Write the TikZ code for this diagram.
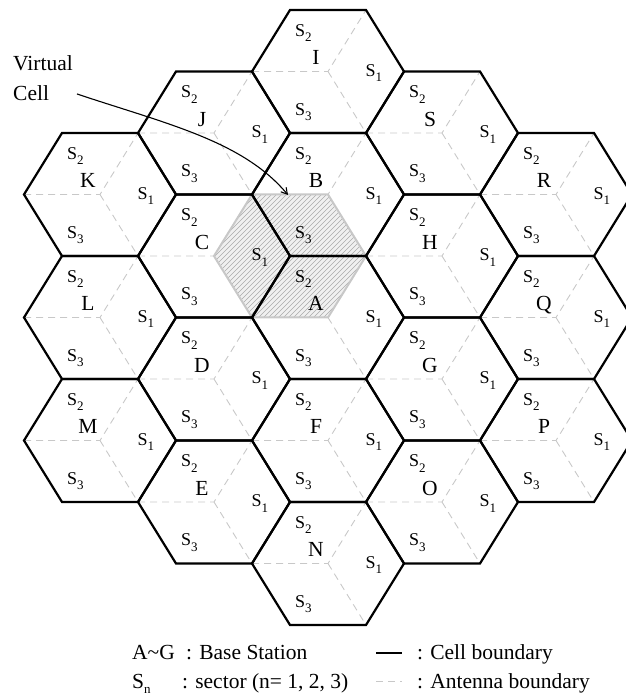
\documentclass[tikz,border=0pt]{standalone}
\usepackage{fontspec}
\setmainfont{Liberation Serif}
\usetikzlibrary{arrows.meta}
\definecolor{antgray}{RGB}{200,200,200}
\definecolor{vfill}{RGB}{240,240,240}
\definecolor{vhatch}{RGB}{170,170,170}
\definecolor{vborder}{RGB}{200,200,200}
\newcommand{\Ssub}[1]{S\raisebox{-5.5pt}{\fontsize{13}{13}\selectfont #1}}
\begin{document}
\begin{tikzpicture}[x=1pt,y=1pt,
  cellb/.style={line width=2.2pt, line join=miter},
  antb/.style={antgray, line width=0.9pt, dash pattern=on 7pt off 5pt},
  slab/.style={font=\fontsize{18}{18}\selectfont, inner sep=0pt, anchor=base west},
  clab/.style={font=\fontsize{21.5}{24}\selectfont, inner sep=0pt, anchor=base},
  legtext/.style={font=\fontsize{21.5}{24}\selectfont, inner sep=0pt, anchor=base west}]
\useasboundingbox (0,0) rectangle (626,697);
\clip (0,0) rectangle (626,697);
\def\cells{K,L,M,J,C,D,E,I,B,A,F,N,S,H,G,O,R,Q,P}
\foreach \n/\cx/\cy in {K/100/502.5, L/100/379.5, M/100/256.5,
  J/214/564, C/214/441, D/214/318, E/214/195,
  I/328/625.5, B/328/502.5, A/328/379.5, F/328/256.5, N/328/133.5,
  S/442/564, H/442/441, G/442/318, O/442/195,
  R/556/502.5, Q/556/379.5, P/556/256.5}
  \coordinate (c\n) at (\cx,\cy);
% virtual cell
\coordinate (vc) at (290,441);
\fill[vfill, shift={(vc)}] (76,0) -- (38,61.5) -- (-38,61.5) -- (-76,0) -- (-38,-61.5) -- (38,-61.5) -- cycle;
\begin{scope}
  \clip[shift={(vc)}] (76,0) -- (38,61.5) -- (-38,61.5) -- (-76,0) -- (-38,-61.5) -- (38,-61.5) -- cycle;
  \foreach \i in {-34,...,34}
    \draw[vhatch, line width=0.6pt, shift={(vc)}] (5*\i-80,-80) -- (5*\i+80,80);
\end{scope}
% antenna boundaries
\foreach \n in \cells
  \draw[antb, shift={(c\n)}] (-76,0) -- (0,0) -- (38,61.5) (0,0) -- (38,-61.5);
\draw[vborder, line width=2pt, shift={(vc)}] (76,0) -- (38,61.5) -- (-38,61.5) -- (-76,0) -- (-38,-61.5) -- (38,-61.5) -- cycle;
% cell boundaries
\foreach \n in \cells
  \draw[cellb, shift={(c\n)}] (76,0) -- (38,61.5) -- (-38,61.5) -- (-76,0) -- (-38,-61.5) -- (38,-61.5) -- cycle;
% labels
\foreach \n in \cells {
  \path (c\n) ++(-12,6.5) node[clab] (lt\n) {\n};
  \path (c\n) ++(-33,35) node[slab] (sb\n) {\Ssub{2}};
  \path (c\n) ++(37.5,-5) node[slab] (sa\n) {\Ssub{1}};
  \path (c\n) ++(-33,-44) node[slab] (sc\n) {\Ssub{3}};
}
% virtual cell annotation
\node[legtext] (vt1) at (13,626) {Virtual};
\node[legtext] (vt2) at (13,596) {Cell};
\coordinate (vtail) at (77,603);
\coordinate (vhead) at (288,502);
\draw[line width=1.1pt, -{Straight Barb[length=6pt,width=7pt]}] (vtail) .. controls (167,573) and (243,556) .. (vhead);
% legend
\node[legtext] (lg1) at (132,37) {A\textasciitilde G};
\node[legtext] (lg2) at (186,37) {: Base Station};
\node[legtext] (lg3) at (132,9) {S\raisebox{-5pt}{\fontsize{13}{13}\selectfont n}};
\node[legtext] (lg4) at (182,9) {: sector (n= 1, 2, 3)};
\coordinate (ls1) at (376,44);
\coordinate (ls2) at (402,44);
\draw[cellb] (ls1) -- (ls2);
\node[legtext] (lg5) at (417,37) {: Cell boundary};
\coordinate (ld1) at (376,16);
\coordinate (ld2) at (402,16);
\draw[antb] (ld1) -- (ld2);
\node[legtext] (lg6) at (417,9) {: Antenna boundary};
\end{tikzpicture}
\end{document}
